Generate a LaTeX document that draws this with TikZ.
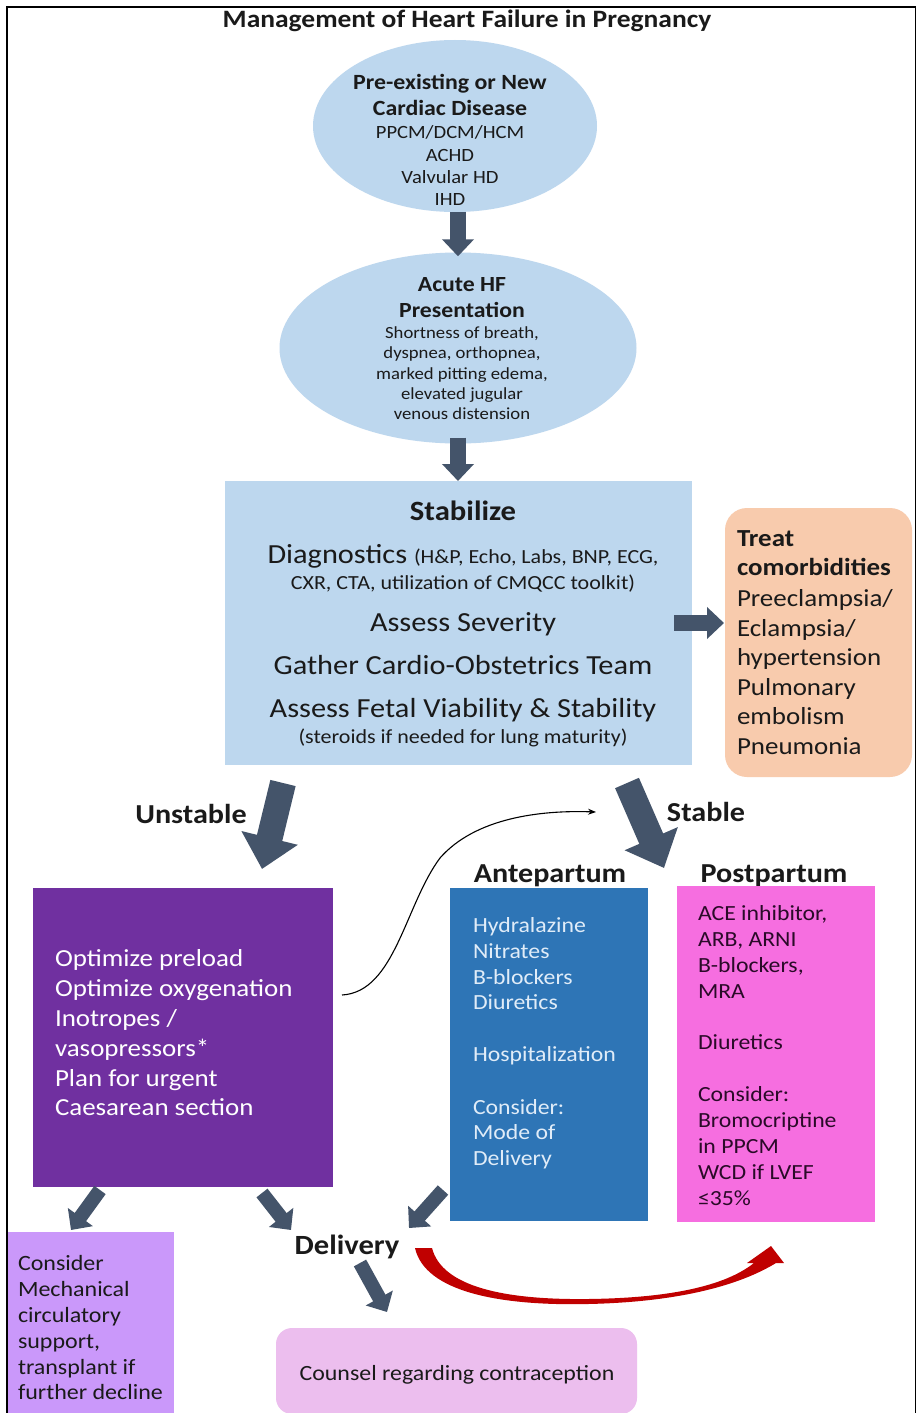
\documentclass[tikz,border=0pt]{standalone}
\usepackage{fontspec}
\setmainfont{Carlito}[FakeStretch=1.1]
\usetikzlibrary{arrows.meta,shapes.geometric}
\definecolor{lblue}{RGB}{189,215,238}
\definecolor{peach}{RGB}{248,203,173}
\definecolor{slate}{RGB}{68,84,106}
\definecolor{purp}{RGB}{112,48,160}
\definecolor{abl}{RGB}{46,117,182}
\definecolor{pinkbox}{RGB}{246,110,224}
\definecolor{lav}{RGB}{202,152,250}
\definecolor{cpink}{RGB}{236,190,238}
\definecolor{redd}{RGB}{192,0,0}
\definecolor{txt}{RGB}{26,26,26}
\definecolor{aptxt}{RGB}{224,236,248}
\definecolor{pptxt}{RGB}{42,10,40}
\newcommand{\fs}[2]{\fontsize{#1}{#2}\selectfont}
\begin{document}
\begin{tikzpicture}[x=1pt,y=-1pt,
  boxnode/.style={rectangle,inner sep=0,outer sep=0,draw=none},
  tl/.style={inner sep=0,outer sep=0,anchor=base west,text=txt},
  tc/.style={inner sep=0,outer sep=0,anchor=base,text=txt},
  ba/.style={draw=slate,line width=16pt,-{Triangle[length=17pt,width=31pt]}},
  bigba/.style={draw=slate,line width=26pt,-{Triangle[length=32pt,width=56pt]}},
  smallba/.style={draw=slate,line width=14pt,-{Triangle[length=16pt,width=30pt]}}]
\useasboundingbox (0,0) rectangle (917,1413);
\fill[white] (0,0) rectangle (917,1413);

% title
\node[tc] (title) at (467,28) {\fs{25}{30}\bfseries Management of Heart Failure in Pregnancy};

% ellipse 1
\node[ellipse,fill=lblue,inner sep=0,minimum width=284pt,minimum height=172pt] (e1) at (455,126) {};
\node[tc] (e1a) at (450,89) {\fs{21.7}{26}\bfseries Pre-existing or New};
\node[tc] (e1b) at (450,115) {\fs{21.7}{26}\bfseries Cardiac Disease};
\foreach \y/\t [count=\i] in {138/{PPCM/DCM/HCM},161/ACHD,183/Valvular HD,205/IHD}
  \node[tc] (e1t\i) at (450,\y) {\fs{18.7}{22}\t};

% ellipse 2
\node[ellipse,fill=lblue,inner sep=0,minimum width=357pt,minimum height=191pt] (e2) at (458,348) {};
\node[tc] (e2a) at (462,291) {\fs{21.6}{26}\bfseries Acute HF};
\node[tc] (e2b) at (462,317) {\fs{21.6}{26}\bfseries Presentation};
\foreach \y/\t [count=\i] in {338/{Shortness of breath,},358/{dyspnea, orthopnea,},379/{marked pitting edema,},399/elevated jugular,419/venous distension}
  \node[tc] (e2t\i) at (462,\y) {\fs{17}{20}\t};

\draw[ba] (e1.south -| e2.north) -- ([yshift=-4pt]e2.north);
\draw[ba] ([yshift=6pt]e2.south) -- (e2.south |- 0,481);

% stabilize box
\node[boxnode,fill=lblue,minimum width=467pt,minimum height=284pt] (st) at (458.5,623) {};
\node[tc] (st1) at (463,520) {\fs{27.9}{32}\bfseries Stabilize};
\node[tc] (st2) at (463,563) {\fs{27.6}{32}Diagnostics \fs{20}{24}(H\&P, Echo, Labs, BNP, ECG,};
\node[tc] (st3) at (463,589.5) {\fs{20}{24}CXR, CTA, utilization of CMQCC toolkit)};
\node[tc] (st4) at (463,631) {\fs{27.6}{32}Assess Severity};
\node[tc] (st5) at (463,674) {\fs{27.6}{32}Gather Cardio-Obstetrics Team};
\node[tc] (st6) at (463,717) {\fs{27.6}{32}Assess Fetal Viability \& Stability};
\node[tc] (st7) at (463,743) {\fs{20}{24}(steroids if needed for lung maturity)};

% treat comorbidities
\node[boxnode,fill=peach,rounded corners=22pt,minimum width=187pt,minimum height=269pt] (tcb) at (818.5,642.5) {};
\node[tl] (tc1) at (737,546) {\fs{24.5}{29}\bfseries Treat};
\node[tl] (tc2) at (737,575) {\fs{24.5}{29}\bfseries comorbidities};
\foreach \y/\t [count=\i] in {606/{Preeclampsia/},636/{Eclampsia/},665/hypertension,695/Pulmonary,724/embolism,754/Pneumonia}
  \node[tl] (tct\i) at (737,\y) {\fs{24.5}{29}\t};
\draw[ba] ([xshift=-18pt]st.east) -- ([xshift=-1pt]tcb.west |- st.east);

% labels
\node[tc] (lunst) at (191,823) {\fs{27.4}{32}\bfseries Unstable};
\node[tc] (lst) at (706,821) {\fs{27.4}{32}\bfseries Stable};
\node[tc] (lap) at (550,882) {\fs{27.4}{32}\bfseries Antepartum};
\node[tc] (lpp) at (774,882) {\fs{27.4}{32}\bfseries Postpartum};

% big arrows
\coordinate (ua) at (283,783);
\coordinate (ub) at (262,869);
\coordinate (sa) at (627,783);
\coordinate (sb) at (664,868);
\draw[bigba] (ua) -- (ub);
\draw[bigba] (sa) -- (sb);

% purple box
\node[boxnode,fill=purp,minimum width=300pt,minimum height=299pt] (pu) at (183,1037.5) {};
\foreach \t [count=\i from 0] in {Optimize preload,Optimize oxygenation,Inotropes /,vasopressors*,Plan for urgent,Caesarean section}
  \node[tl,text=white] (put\i) at (55,{966.8+29.8*\i}) {\fs{24.5}{29}\t};

% thin curved arrow
\coordinate (ca) at (342,995);
\coordinate (cb) at (596,812);
\draw[line width=1.1pt,-{Stealth[length=8pt,width=6pt]}] (ca) .. controls (395,992) and (405,905) .. (440,858) .. controls (475,818) and (540,810) .. (cb);

% antepartum box
\node[boxnode,fill=abl,minimum width=198pt,minimum height=333pt] (ap) at (549,1054.5) {};
\foreach \y/\t [count=\i] in {925/Hydralazine,951/Nitrates,977/B-blockers,1002/Diuretics,1054/Hospitalization,1107/Consider:,1132/Mode of,1158/Delivery}
  \node[tl,text=aptxt] (apt\i) at (473,\y+7) {\fs{21.6}{26}\t};

% postpartum box
\node[boxnode,fill=pinkbox,minimum width=198pt,minimum height=336pt] (pp) at (776,1054) {};
\foreach \y/\t [count=\i] in {913/{ACE inhibitor,},939/{ARB, ARNI},965/{B-blockers,},991/MRA,1042/Diuretics,1094/Consider:,1120/Bromocriptine,1146/in PPCM,1172/WCD if LVEF,1198/{≤35\%}}
  \node[tl,text=pptxt] (ppt\i) at (698,\y+7) {\fs{21.6}{26}\t};

% mechanical support box
\node[boxnode,fill=lav,minimum width=166pt,minimum height=181pt] (mc) at (91,1322.5) {};
\foreach \y/\t [count=\i] in {1263/Consider,1289/Mechanical,1315/circulatory,1341/{support,},1367/transplant if,1392/further decline}
  \node[tl] (mct\i) at (18,\y+7) {\fs{21.8}{26}\t};

% delivery label
\node[tc] (del) at (347,1254) {\fs{27.8}{32}\bfseries Delivery};

% counsel box
\node[boxnode,fill=cpink,rounded corners=16pt,minimum width=361pt,minimum height=86pt] (cs) at (456.5,1371) {};
\node[tc] (cst) at (457,1380) {\fs{21.7}{26}Counsel regarding contraception};

% small arrows
\coordinate (m1a) at (100,1190); \coordinate (m1b) at (71,1230);
\coordinate (m2a) at (262,1193); \coordinate (m2b) at (291,1230);
\coordinate (m3a) at (443,1190); \coordinate (m3b) at (409,1228);
\coordinate (m4a) at (360,1263); \coordinate (m4b) at (387,1312);
\draw[smallba] (m1a) -- (m1b);
\draw[smallba] (m2a) -- (m2b);
\draw[smallba] (m3a) -- (m3b);
\draw[smallba] (m4a) -- (m4b);

% red curved arrow
\fill[redd] (415,1248) .. controls (425,1292) and (500,1306) .. (588,1304)
  .. controls (680,1302) and (740,1285) .. (776,1263)
  -- (784,1263) -- (771,1246) -- (747,1263) -- (754,1263)
  .. controls (725,1286) and (670,1298) .. (588,1299)
  .. controls (505,1300) and (442,1287) .. (432,1248) -- cycle;

% frame
\draw[line width=1.5pt] (6.75,1413) -- (6.75,7) -- (915.5,7) -- (915.5,1413);
\end{tikzpicture}
\end{document}
